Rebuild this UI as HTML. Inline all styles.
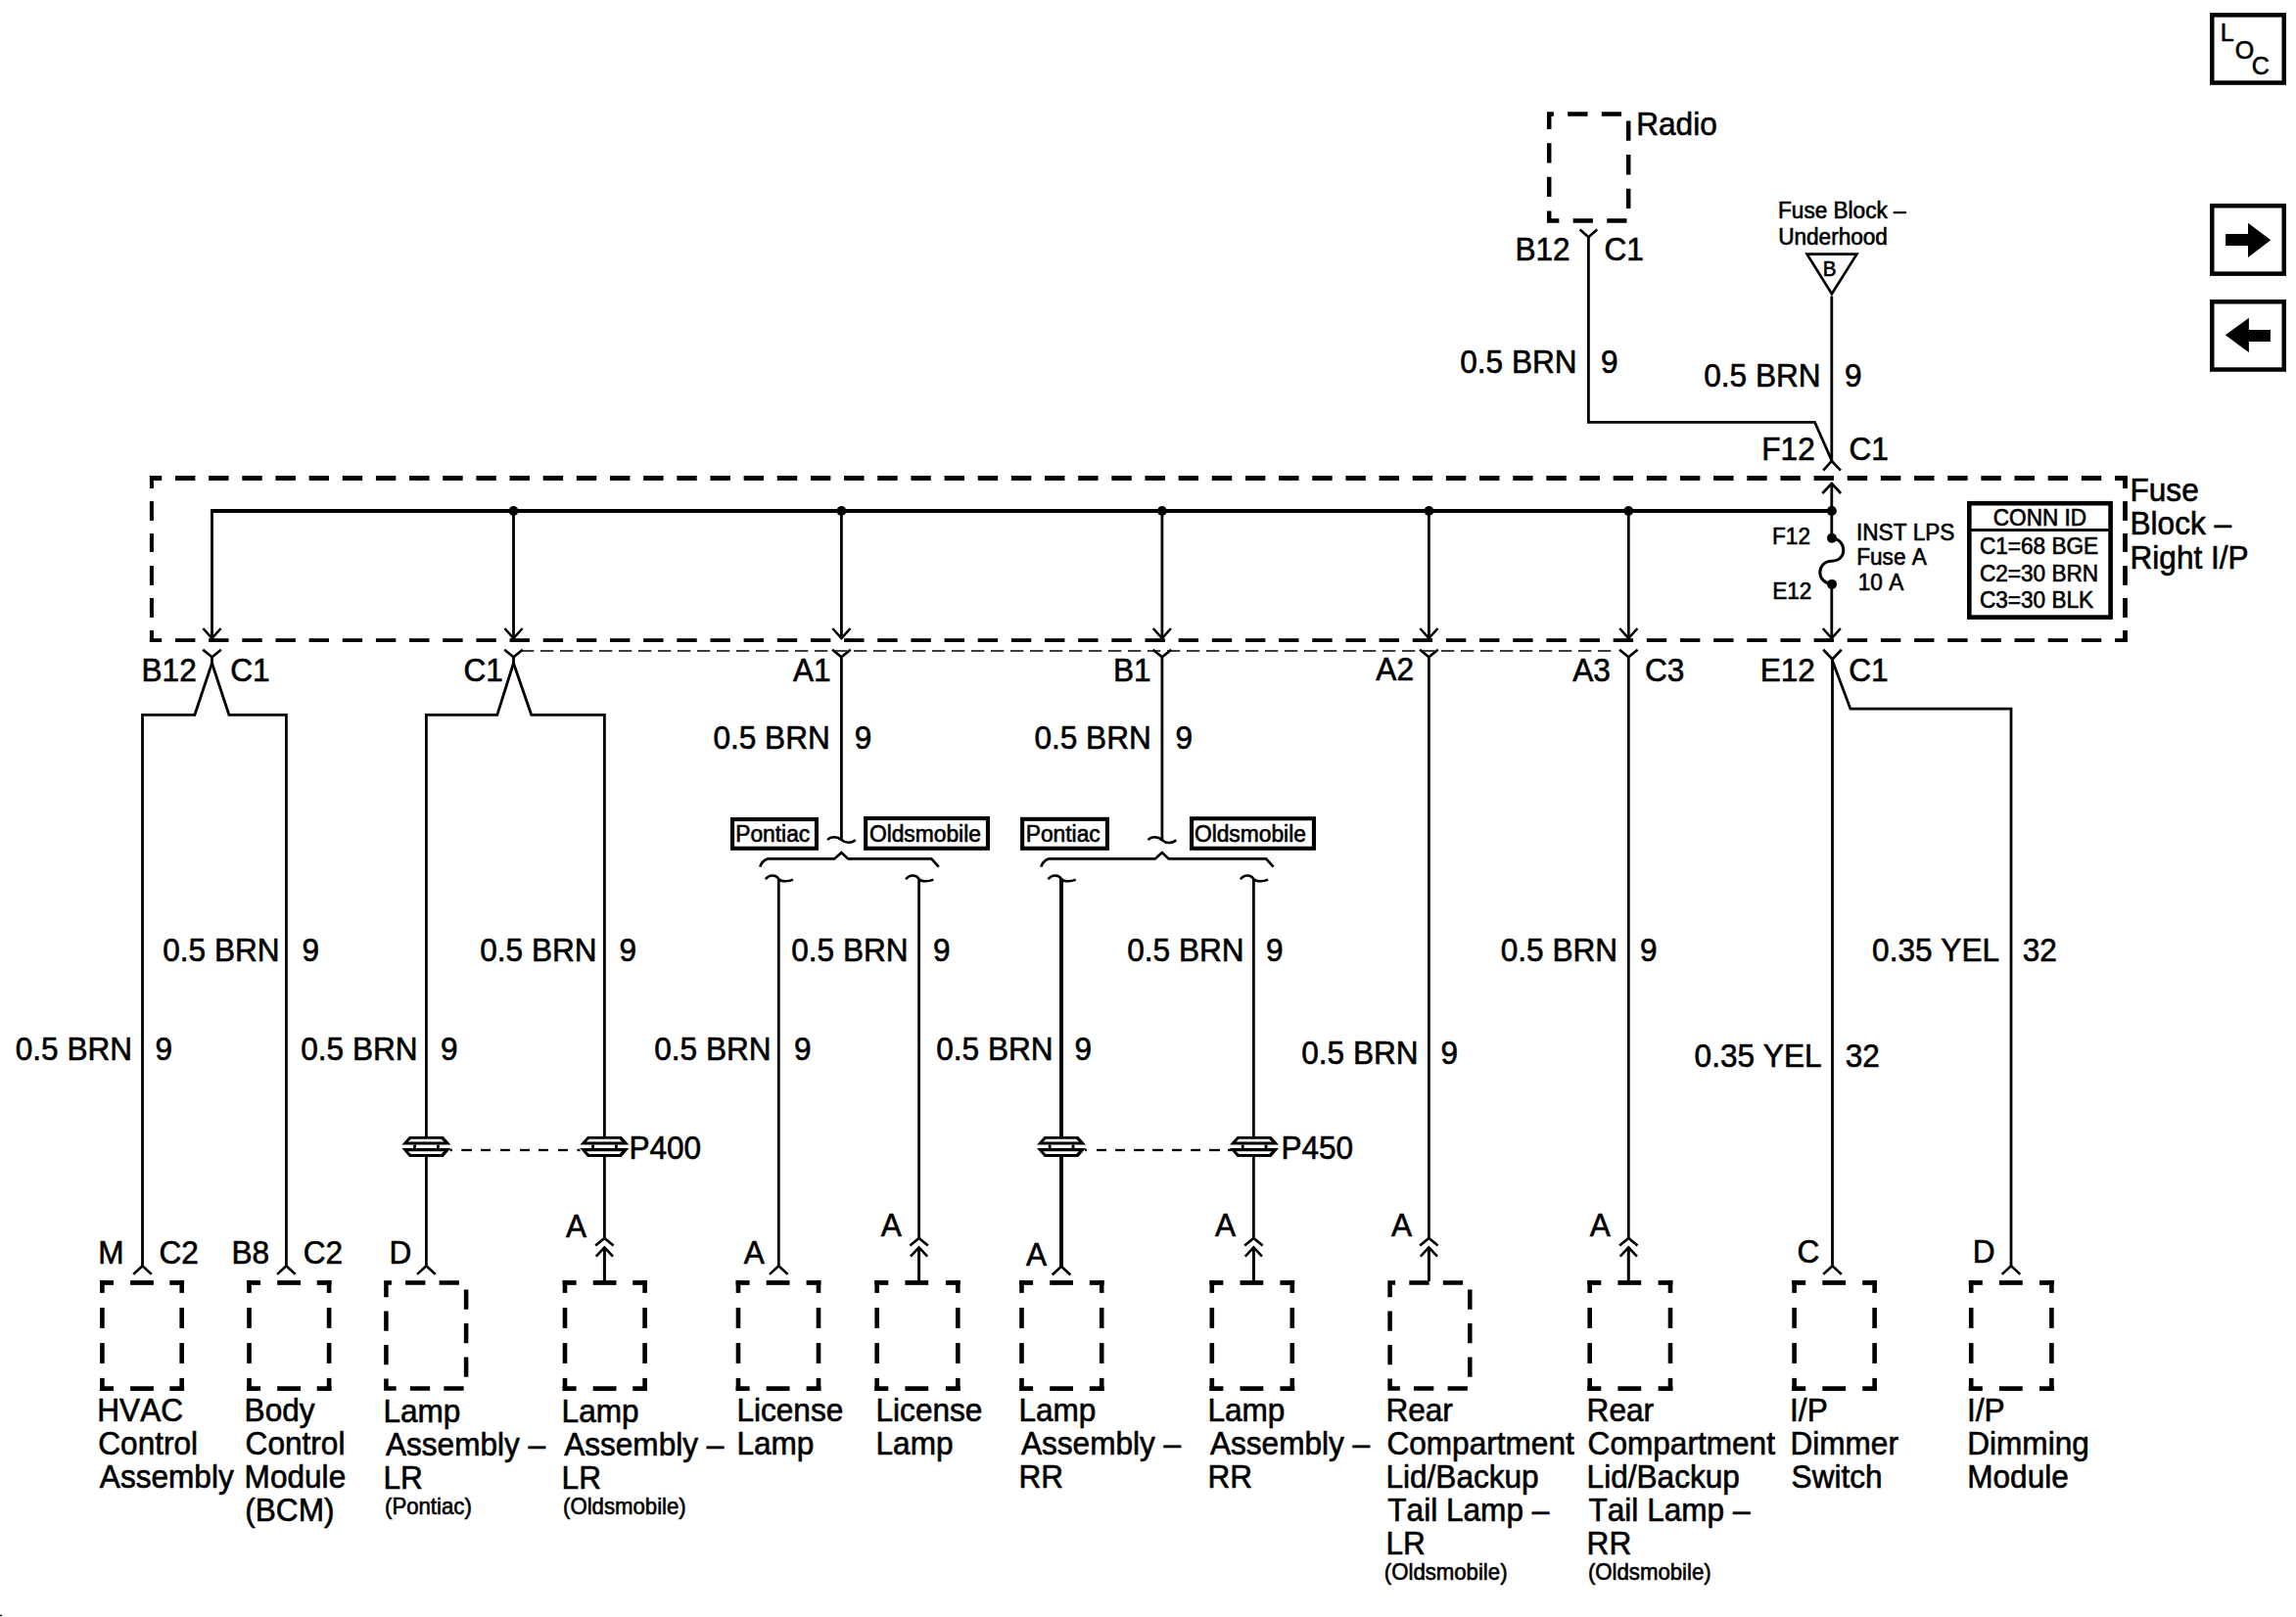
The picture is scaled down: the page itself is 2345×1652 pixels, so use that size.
<!DOCTYPE html>
<html lang="en"><head><meta charset="utf-8"><title>Interior Lamps Dimming Schematic</title>
<style>
html,body{margin:0;padding:0;background:#fff;}
body{width:2345px;height:1652px;overflow:hidden;}
svg{display:block;position:absolute;left:0;top:0;}
svg *{stroke:#000;fill:none;stroke-linecap:butt;}
svg text{font-family:"Liberation Sans",Arial,Helvetica,sans-serif;fill:#000;stroke:#000;stroke-width:0.6px;font-kerning:none;}
svg .f{fill:#000;stroke:none;}
svg .w{fill:#fff;stroke:none;}
</style></head><body>
<svg width="2345" height="1652" viewBox="0 0 2345 1652">
<rect x="0" y="0" width="2345" height="1652" style="fill:#fff;stroke:none"/>
<rect x="2259.25" y="15.35" width="73.50" height="69.20" stroke-width="4.5" fill="#fff"/>
<text transform="translate(2267.85,41.80) scale(1,1.04)" font-size="25" text-anchor="start">L</text>
<text transform="translate(2282.82,59.80) scale(1,1.04)" font-size="25" text-anchor="start">O</text>
<text transform="translate(2299.63,75.70) scale(1,1.04)" font-size="25" text-anchor="start">C</text>
<rect x="2259.25" y="210.25" width="73.50" height="69.40" stroke-width="4.5" fill="#fff"/>
<polygon class="f" points="2273.1,238.9 2296,238.9 2296,227.8 2319.2,245.3 2296,263 2296,250.9 2273.1,250.9"/>
<rect x="2259.25" y="308.25" width="73.50" height="69.30" stroke-width="4.5" fill="#fff"/>
<polygon class="f" points="2318.9,336.9 2296.9,336.9 2296.9,324.8 2272.8,342.3 2296.9,360 2296.9,348.9 2318.9,348.9"/>
<path d="M1601.20,116.40 L1663.20,116.40 L1663.20,225.50 L1582.20,225.50 L1582.20,116.40 L1601.20,116.40" stroke-width="4.5" stroke-dasharray="20.30 14.26" stroke-linejoin="miter"/>
<text transform="translate(1671.21,137.50) scale(1,1.035)" font-size="31.6" text-anchor="start">Radio</text>
<path d="M1613.60,234.50 L1622.40,242.30 L1631.20,234.50" stroke-width="2.6" />
<text transform="translate(1547.41,266.30) scale(1,1.035)" font-size="31.6" text-anchor="start">B12</text>
<text transform="translate(1638.50,266.30) scale(1,1.035)" font-size="31.6" text-anchor="start">C1</text>
<path d="M1622.4,242.3 L1622.4,431.3 L1853.5,431.3 L1870.8,470.5" stroke-width="2.8" />
<text transform="translate(1610.58,381.00) scale(1,1.035)" font-size="31.6" text-anchor="end">0.5 BRN</text>
<text transform="translate(1635.02,381.00) scale(1,1.035)" font-size="31.6" text-anchor="start">9</text>
<text transform="translate(1816.05,222.70) scale(1,1.05)" font-size="22.6" text-anchor="start">Fuse Block –</text>
<text transform="translate(1816.16,249.80) scale(1,1.05)" font-size="22.6" text-anchor="start">Underhood</text>
<path d="M1845.6,259.7 L1896.4,259.7 L1870.9,300.2 Z" stroke-width="2.7" stroke-linejoin="miter"/>
<text transform="translate(1861.71,281.60) scale(1,1.04)" font-size="20.6" text-anchor="start">B</text>
<line x1="1870.80" y1="302.50" x2="1870.80" y2="471.00" stroke-width="2.8" />
<text transform="translate(1859.58,395.00) scale(1,1.035)" font-size="31.6" text-anchor="end">0.5 BRN</text>
<text transform="translate(1884.02,395.00) scale(1,1.035)" font-size="31.6" text-anchor="start">9</text>
<text transform="translate(1799.31,469.75) scale(1,1.035)" font-size="31.6" text-anchor="start">F12</text>
<text transform="translate(1888.40,469.75) scale(1,1.035)" font-size="31.6" text-anchor="start">C1</text>
<path d="M1862.2,480.6 L1870.8,471 L1880,480.6" stroke-width="2.6" />
<rect x="152.90" y="486.00" width="12.30" height="4.90" class="f"/>
<rect x="179.00" y="486.00" width="20.40" height="4.90" class="f"/>
<rect x="213.16" y="486.00" width="20.40" height="4.90" class="f"/>
<rect x="247.31" y="486.00" width="20.40" height="4.90" class="f"/>
<rect x="281.47" y="486.00" width="20.40" height="4.90" class="f"/>
<rect x="315.62" y="486.00" width="20.40" height="4.90" class="f"/>
<rect x="349.77" y="486.00" width="20.40" height="4.90" class="f"/>
<rect x="383.93" y="486.00" width="20.40" height="4.90" class="f"/>
<rect x="418.09" y="486.00" width="20.40" height="4.90" class="f"/>
<rect x="452.24" y="486.00" width="20.40" height="4.90" class="f"/>
<rect x="486.39" y="486.00" width="20.40" height="4.90" class="f"/>
<rect x="520.55" y="486.00" width="20.40" height="4.90" class="f"/>
<rect x="554.71" y="486.00" width="20.40" height="4.90" class="f"/>
<rect x="588.86" y="486.00" width="20.40" height="4.90" class="f"/>
<rect x="623.01" y="486.00" width="20.40" height="4.90" class="f"/>
<rect x="657.17" y="486.00" width="20.40" height="4.90" class="f"/>
<rect x="691.33" y="486.00" width="20.40" height="4.90" class="f"/>
<rect x="725.48" y="486.00" width="20.40" height="4.90" class="f"/>
<rect x="759.63" y="486.00" width="20.40" height="4.90" class="f"/>
<rect x="793.79" y="486.00" width="20.40" height="4.90" class="f"/>
<rect x="827.95" y="486.00" width="20.40" height="4.90" class="f"/>
<rect x="862.10" y="486.00" width="20.40" height="4.90" class="f"/>
<rect x="896.25" y="486.00" width="20.40" height="4.90" class="f"/>
<rect x="930.41" y="486.00" width="20.40" height="4.90" class="f"/>
<rect x="964.57" y="486.00" width="20.40" height="4.90" class="f"/>
<rect x="998.72" y="486.00" width="20.40" height="4.90" class="f"/>
<rect x="1032.88" y="486.00" width="20.40" height="4.90" class="f"/>
<rect x="1067.03" y="486.00" width="20.40" height="4.90" class="f"/>
<rect x="1101.18" y="486.00" width="20.40" height="4.90" class="f"/>
<rect x="1135.34" y="486.00" width="20.40" height="4.90" class="f"/>
<rect x="1169.49" y="486.00" width="20.40" height="4.90" class="f"/>
<rect x="1203.65" y="486.00" width="20.40" height="4.90" class="f"/>
<rect x="1237.81" y="486.00" width="20.40" height="4.90" class="f"/>
<rect x="1271.96" y="486.00" width="20.40" height="4.90" class="f"/>
<rect x="1306.12" y="486.00" width="20.40" height="4.90" class="f"/>
<rect x="1340.27" y="486.00" width="20.40" height="4.90" class="f"/>
<rect x="1374.42" y="486.00" width="20.40" height="4.90" class="f"/>
<rect x="1408.58" y="486.00" width="20.40" height="4.90" class="f"/>
<rect x="1442.74" y="486.00" width="20.40" height="4.90" class="f"/>
<rect x="1476.89" y="486.00" width="20.40" height="4.90" class="f"/>
<rect x="1511.05" y="486.00" width="20.40" height="4.90" class="f"/>
<rect x="1545.20" y="486.00" width="20.40" height="4.90" class="f"/>
<rect x="1579.36" y="486.00" width="20.40" height="4.90" class="f"/>
<rect x="1613.51" y="486.00" width="20.40" height="4.90" class="f"/>
<rect x="1647.66" y="486.00" width="20.40" height="4.90" class="f"/>
<rect x="1681.82" y="486.00" width="20.40" height="4.90" class="f"/>
<rect x="1715.98" y="486.00" width="20.40" height="4.90" class="f"/>
<rect x="1750.13" y="486.00" width="20.40" height="4.90" class="f"/>
<rect x="1784.29" y="486.00" width="20.40" height="4.90" class="f"/>
<rect x="1818.44" y="486.00" width="20.40" height="4.90" class="f"/>
<rect x="1852.60" y="486.00" width="20.40" height="4.90" class="f"/>
<rect x="1886.75" y="486.00" width="20.40" height="4.90" class="f"/>
<rect x="1920.90" y="486.00" width="20.40" height="4.90" class="f"/>
<rect x="1955.06" y="486.00" width="20.40" height="4.90" class="f"/>
<rect x="1989.22" y="486.00" width="20.40" height="4.90" class="f"/>
<rect x="2023.37" y="486.00" width="20.40" height="4.90" class="f"/>
<rect x="2057.53" y="486.00" width="20.40" height="4.90" class="f"/>
<rect x="2091.68" y="486.00" width="20.40" height="4.90" class="f"/>
<rect x="2125.84" y="486.00" width="20.40" height="4.90" class="f"/>
<rect x="2160.00" y="486.00" width="12.90" height="4.90" class="f"/>
<rect x="152.90" y="652.20" width="12.30" height="3.80" class="f"/>
<rect x="179.00" y="652.20" width="20.40" height="3.80" class="f"/>
<rect x="213.16" y="652.20" width="20.40" height="3.80" class="f"/>
<rect x="247.31" y="652.20" width="20.40" height="3.80" class="f"/>
<rect x="281.47" y="652.20" width="20.40" height="3.80" class="f"/>
<rect x="315.62" y="652.20" width="20.40" height="3.80" class="f"/>
<rect x="349.77" y="652.20" width="20.40" height="3.80" class="f"/>
<rect x="383.93" y="652.20" width="20.40" height="3.80" class="f"/>
<rect x="418.09" y="652.20" width="20.40" height="3.80" class="f"/>
<rect x="452.24" y="652.20" width="20.40" height="3.80" class="f"/>
<rect x="486.39" y="652.20" width="20.40" height="3.80" class="f"/>
<rect x="520.55" y="652.20" width="20.40" height="3.80" class="f"/>
<rect x="554.71" y="652.20" width="20.40" height="3.80" class="f"/>
<rect x="588.86" y="652.20" width="20.40" height="3.80" class="f"/>
<rect x="623.01" y="652.20" width="20.40" height="3.80" class="f"/>
<rect x="657.17" y="652.20" width="20.40" height="3.80" class="f"/>
<rect x="691.33" y="652.20" width="20.40" height="3.80" class="f"/>
<rect x="725.48" y="652.20" width="20.40" height="3.80" class="f"/>
<rect x="759.63" y="652.20" width="20.40" height="3.80" class="f"/>
<rect x="793.79" y="652.20" width="20.40" height="3.80" class="f"/>
<rect x="827.95" y="652.20" width="20.40" height="3.80" class="f"/>
<rect x="862.10" y="652.20" width="20.40" height="3.80" class="f"/>
<rect x="896.25" y="652.20" width="20.40" height="3.80" class="f"/>
<rect x="930.41" y="652.20" width="20.40" height="3.80" class="f"/>
<rect x="964.57" y="652.20" width="20.40" height="3.80" class="f"/>
<rect x="998.72" y="652.20" width="20.40" height="3.80" class="f"/>
<rect x="1032.88" y="652.20" width="20.40" height="3.80" class="f"/>
<rect x="1067.03" y="652.20" width="20.40" height="3.80" class="f"/>
<rect x="1101.18" y="652.20" width="20.40" height="3.80" class="f"/>
<rect x="1135.34" y="652.20" width="20.40" height="3.80" class="f"/>
<rect x="1169.49" y="652.20" width="20.40" height="3.80" class="f"/>
<rect x="1203.65" y="652.20" width="20.40" height="3.80" class="f"/>
<rect x="1237.81" y="652.20" width="20.40" height="3.80" class="f"/>
<rect x="1271.96" y="652.20" width="20.40" height="3.80" class="f"/>
<rect x="1306.12" y="652.20" width="20.40" height="3.80" class="f"/>
<rect x="1340.27" y="652.20" width="20.40" height="3.80" class="f"/>
<rect x="1374.42" y="652.20" width="20.40" height="3.80" class="f"/>
<rect x="1408.58" y="652.20" width="20.40" height="3.80" class="f"/>
<rect x="1442.74" y="652.20" width="20.40" height="3.80" class="f"/>
<rect x="1476.89" y="652.20" width="20.40" height="3.80" class="f"/>
<rect x="1511.05" y="652.20" width="20.40" height="3.80" class="f"/>
<rect x="1545.20" y="652.20" width="20.40" height="3.80" class="f"/>
<rect x="1579.36" y="652.20" width="20.40" height="3.80" class="f"/>
<rect x="1613.51" y="652.20" width="20.40" height="3.80" class="f"/>
<rect x="1647.66" y="652.20" width="20.40" height="3.80" class="f"/>
<rect x="1681.82" y="652.20" width="20.40" height="3.80" class="f"/>
<rect x="1715.98" y="652.20" width="20.40" height="3.80" class="f"/>
<rect x="1750.13" y="652.20" width="20.40" height="3.80" class="f"/>
<rect x="1784.29" y="652.20" width="20.40" height="3.80" class="f"/>
<rect x="1818.44" y="652.20" width="20.40" height="3.80" class="f"/>
<rect x="1852.60" y="652.20" width="20.40" height="3.80" class="f"/>
<rect x="1886.75" y="652.20" width="20.40" height="3.80" class="f"/>
<rect x="1920.90" y="652.20" width="20.40" height="3.80" class="f"/>
<rect x="1955.06" y="652.20" width="20.40" height="3.80" class="f"/>
<rect x="1989.22" y="652.20" width="20.40" height="3.80" class="f"/>
<rect x="2023.37" y="652.20" width="20.40" height="3.80" class="f"/>
<rect x="2057.53" y="652.20" width="20.40" height="3.80" class="f"/>
<rect x="2091.68" y="652.20" width="20.40" height="3.80" class="f"/>
<rect x="2125.84" y="652.20" width="20.40" height="3.80" class="f"/>
<rect x="2160.00" y="652.20" width="12.90" height="3.80" class="f"/>
<rect x="152.90" y="486.00" width="4.00" height="13.00" class="f"/>
<rect x="152.90" y="512.10" width="4.00" height="19.80" class="f"/>
<rect x="152.90" y="545.00" width="4.00" height="18.90" class="f"/>
<rect x="152.90" y="578.10" width="4.00" height="19.80" class="f"/>
<rect x="152.90" y="611.00" width="4.00" height="19.90" class="f"/>
<rect x="152.90" y="644.00" width="4.00" height="11.90" class="f"/>
<rect x="2168.12" y="486.00" width="4.75" height="13.00" class="f"/>
<rect x="2168.12" y="512.10" width="4.75" height="19.80" class="f"/>
<rect x="2168.12" y="545.00" width="4.75" height="18.90" class="f"/>
<rect x="2168.12" y="578.10" width="4.75" height="19.80" class="f"/>
<rect x="2168.12" y="611.00" width="4.75" height="19.90" class="f"/>
<rect x="2168.12" y="644.00" width="4.75" height="11.90" class="f"/>
<text transform="translate(2175.51,511.50) scale(1,1.035)" font-size="31.6" text-anchor="start">Fuse</text>
<text transform="translate(2175.51,545.60) scale(1,1.035)" font-size="31.6" text-anchor="start">Block –</text>
<text transform="translate(2175.51,580.60) scale(1,1.035)" font-size="31.6" text-anchor="start">Right I/P</text>
<line x1="215.10" y1="522.00" x2="1870.80" y2="522.00" stroke-width="4.0" />
<line x1="216.50" y1="522.00" x2="216.50" y2="651.50" stroke-width="2.8" />
<path d="M207.40,642.00 L216.50,652.00 L225.60,642.00" stroke-width="2.6" />
<line x1="524.50" y1="522.00" x2="524.50" y2="651.50" stroke-width="2.8" />
<path d="M515.40,642.00 L524.50,652.00 L533.60,642.00" stroke-width="2.6" />
<line x1="859.40" y1="522.00" x2="859.40" y2="651.50" stroke-width="2.8" />
<path d="M850.30,642.00 L859.40,652.00 L868.50,642.00" stroke-width="2.6" />
<line x1="1186.90" y1="522.00" x2="1186.90" y2="651.50" stroke-width="2.8" />
<path d="M1177.80,642.00 L1186.90,652.00 L1196.00,642.00" stroke-width="2.6" />
<line x1="1459.40" y1="522.00" x2="1459.40" y2="651.50" stroke-width="2.8" />
<path d="M1450.30,642.00 L1459.40,652.00 L1468.50,642.00" stroke-width="2.6" />
<line x1="1663.30" y1="522.00" x2="1663.30" y2="651.50" stroke-width="2.8" />
<path d="M1654.20,642.00 L1663.30,652.00 L1672.40,642.00" stroke-width="2.6" />
<circle cx="524.5" cy="522" r="4.9" class="f"/>
<circle cx="859.4" cy="522" r="4.9" class="f"/>
<circle cx="1186.9" cy="522" r="4.9" class="f"/>
<circle cx="1459.4" cy="522" r="4.9" class="f"/>
<circle cx="1663.3" cy="522" r="4.9" class="f"/>
<circle cx="1870.8" cy="522" r="5.1" class="f"/>
<line x1="1870.80" y1="495.00" x2="1870.80" y2="550.00" stroke-width="2.8" />
<path d="M1861.30,504 L1870.80,494 L1880.10,504" stroke-width="2.6" />
<circle cx="1871.0" cy="549.8" r="5" class="f"/>
<circle cx="1871.0" cy="596.9" r="5" class="f"/>
<path d="M1871.00,550 C1878.80,550.5 1882.80,556 1882.80,562 C1882.80,568 1878.80,573 1870.80,573.2 C1862.80,573.4 1858.80,579 1858.80,585 C1858.80,591 1863.80,596 1871.00,597" stroke-width="3.0" />
<line x1="1870.80" y1="597.00" x2="1870.80" y2="651.50" stroke-width="2.8" />
<path d="M1861.70,642.00 L1870.80,652.00 L1879.90,642.00" stroke-width="2.6" />
<text transform="translate(1810.05,555.60) scale(1,1.05)" font-size="22.6" text-anchor="start">F12</text>
<text transform="translate(1810.15,611.50) scale(1,1.05)" font-size="22.6" text-anchor="start">E12</text>
<text transform="translate(1896.01,551.60) scale(1,1.05)" font-size="22.6" text-anchor="start">INST LPS</text>
<text transform="translate(1896.25,576.90) scale(1,1.05)" font-size="22.6" text-anchor="start">Fuse A</text>
<text transform="translate(1897.78,602.75) scale(1,1.05)" font-size="22.6" text-anchor="start">10 A</text>
<rect x="2011.3" y="514.2" width="144.3" height="116.4" stroke-width="4.6" fill="#fff"/>
<line x1="2011.00" y1="541.60" x2="2156.00" y2="541.60" stroke-width="3.0" />
<text transform="translate(2035.75,536.60) scale(1,1.05)" font-size="22.6" text-anchor="start">CONN ID</text>
<text transform="translate(2021.95,565.90) scale(1,1.05)" font-size="22.6" text-anchor="start">C1=68 BGE</text>
<text transform="translate(2021.95,593.75) scale(1,1.05)" font-size="22.6" text-anchor="start">C2=30 BRN</text>
<text transform="translate(2021.95,620.90) scale(1,1.05)" font-size="22.6" text-anchor="start">C3=30 BLK</text>
<line x1="532" y1="665" x2="1652" y2="665" stroke-width="1.6" stroke-dasharray="13.3 6.7" stroke-dashoffset="0"/>
<path d="M207.20,663.75 L216.50,671.25 L225.80,663.75" stroke-width="2.6" />
<path d="M515.20,663.75 L524.50,671.25 L533.80,663.75" stroke-width="2.6" />
<path d="M850.10,663.75 L859.40,671.25 L868.70,663.75" stroke-width="2.6" />
<path d="M1177.60,663.75 L1186.90,671.25 L1196.20,663.75" stroke-width="2.6" />
<path d="M1450.10,663.75 L1459.40,671.25 L1468.70,663.75" stroke-width="2.6" />
<path d="M1654.00,663.75 L1663.30,671.25 L1672.60,663.75" stroke-width="2.6" />
<path d="M1862.20,663.75 L1871.50,673.50 L1880.80,663.75" stroke-width="2.6" />
<path d="M216.50,671.25 L216.50,677.5 L198.90,730.3 L145.50,730.3 L145.50,1293.00" stroke-width="2.8" stroke-linejoin="miter"/>
<path d="M216.50,677.5 L233.90,730.3 L292.40,730.3 L292.40,1293.00" stroke-width="2.8" stroke-linejoin="miter"/>
<path d="M524.50,671.25 L524.50,677.5 L507.80,730.3 L435.40,730.3 L435.40,1161.50" stroke-width="2.8" stroke-linejoin="miter"/>
<path d="M524.50,677.5 L542.70,730.3 L617.40,730.3 L617.40,1161.50" stroke-width="2.8" stroke-linejoin="miter"/>
<text transform="translate(144.51,695.60) scale(1,1.035)" font-size="31.6" text-anchor="start">B12</text>
<text transform="translate(235.30,695.60) scale(1,1.035)" font-size="31.6" text-anchor="start">C1</text>
<text transform="translate(473.40,695.80) scale(1,1.035)" font-size="31.6" text-anchor="start">C1</text>
<text transform="translate(809.94,695.50) scale(1,1.035)" font-size="31.6" text-anchor="start">A1</text>
<text transform="translate(1136.91,695.60) scale(1,1.035)" font-size="31.6" text-anchor="start">B1</text>
<text transform="translate(1405.34,695.40) scale(1,1.035)" font-size="31.6" text-anchor="start">A2</text>
<text transform="translate(1606.14,695.50) scale(1,1.035)" font-size="31.6" text-anchor="start">A3</text>
<text transform="translate(1679.90,695.50) scale(1,1.035)" font-size="31.6" text-anchor="start">C3</text>
<text transform="translate(1797.71,695.60) scale(1,1.035)" font-size="31.6" text-anchor="start">E12</text>
<text transform="translate(1888.30,695.60) scale(1,1.035)" font-size="31.6" text-anchor="start">C1</text>
<path d="M136.20,1301.90 L145.50,1293.20 L154.80,1301.90" stroke-width="2.6" />
<path d="M283.10,1301.90 L292.40,1293.20 L301.70,1301.90" stroke-width="2.6" />
<line x1="435.40" y1="1182.00" x2="435.40" y2="1293.50" stroke-width="2.8" />
<path d="M426.10,1301.90 L435.40,1293.20 L444.70,1301.90" stroke-width="2.6" />
<line x1="617.40" y1="1182.00" x2="617.40" y2="1265.50" stroke-width="2.8" />
<path d="M608.20,1272.60 L617.40,1265.00 L626.60,1272.60" stroke-width="2.6" />
<path d="M608.80,1283.60 L617.40,1274.40 L626.00,1283.60" stroke-width="2.6" />
<line x1="617.40" y1="1274.40" x2="617.40" y2="1309.00" stroke-width="3.0" />
<rect x="459.50" y="1173.85" width="2.50" height="2.30" class="f"/>
<rect x="471.25" y="1173.85" width="10.65" height="2.30" class="f"/>
<rect x="491.00" y="1173.85" width="10.00" height="2.30" class="f"/>
<rect x="511.00" y="1173.85" width="9.90" height="2.30" class="f"/>
<rect x="531.00" y="1173.85" width="10.00" height="2.30" class="f"/>
<rect x="550.00" y="1173.85" width="10.00" height="2.30" class="f"/>
<rect x="570.00" y="1173.85" width="10.00" height="2.30" class="f"/>
<rect x="589.50" y="1173.85" width="3.00" height="2.30" class="f"/>
<polygon class="f" points="418.10,1161.00 452.70,1161.00 460.40,1169.60 410.40,1169.60"/>
<polygon class="w" points="419.80,1163.75 450.60,1163.75 453.30,1166.60 416.80,1166.60"/>
<polygon class="f" points="410.40,1172.90 460.40,1172.90 452.70,1181.90 418.10,1181.90"/>
<polygon class="w" points="416.80,1176.20 453.30,1176.20 450.60,1179.00 419.80,1179.00"/>
<rect x="422.20" y="1169.40" width="2.80" height="3.70" class="f"/>
<rect x="446.00" y="1169.40" width="2.80" height="3.70" class="f"/>
<polygon class="f" points="600.10,1161.00 634.70,1161.00 642.40,1169.60 592.40,1169.60"/>
<polygon class="w" points="601.80,1163.75 632.60,1163.75 635.30,1166.60 598.80,1166.60"/>
<polygon class="f" points="592.40,1172.90 642.40,1172.90 634.70,1181.90 600.10,1181.90"/>
<polygon class="w" points="598.80,1176.20 635.30,1176.20 632.60,1179.00 601.80,1179.00"/>
<rect x="604.20" y="1169.40" width="2.80" height="3.70" class="f"/>
<rect x="628.00" y="1169.40" width="2.80" height="3.70" class="f"/>
<text transform="translate(642.41,1183.75) scale(1,1.035)" font-size="31.6" text-anchor="start">P400</text>
<line x1="859.40" y1="671.25" x2="859.40" y2="858.00" stroke-width="2.8" />
<path d="M845.10,858.00 C848.67,854.22 855.11,854.22 859.40,858.00 C863.69,861.78 870.12,861.78 873.70,858.00" stroke-width="2.5" />
<text transform="translate(847.78,764.50) scale(1,1.035)" font-size="31.6" text-anchor="end">0.5 BRN</text>
<text transform="translate(872.72,764.50) scale(1,1.035)" font-size="31.6" text-anchor="start">9</text>
<rect x="748.05" y="837.05" width="85.90" height="29.70" stroke-width="4.1" fill="#fff"/>
<text transform="translate(751.23,859.75) scale(1,1.05)" font-size="22.8" text-anchor="start">Pontiac</text>
<rect x="884.15" y="836.05" width="124.80" height="30.70" stroke-width="4.1" fill="#fff"/>
<text transform="translate(887.92,860.00) scale(1,1.05)" font-size="22.8" text-anchor="start">Oldsmobile</text>
<path d="M776.30,885.60 Q777.80,879.90 783.80,877.40 L852.20,877.40 L859.40,871.00 L866.20,877.40 L951.30,877.40 L958.80,885.60" stroke-width="2.7" stroke-linejoin="miter"/>
<path d="M781.80,898.30 C785.30,893.70 792.30,893.10 795.30,898.10 C797.80,900.90 805.30,900.90 810.00,898.60" stroke-width="2.5" />
<path d="M925.10,898.30 C928.60,893.70 935.60,893.10 938.60,898.10 C941.10,900.90 948.60,900.90 953.30,898.60" stroke-width="2.5" />
<line x1="795.30" y1="897.50" x2="795.30" y2="1293.50" stroke-width="2.8" />
<path d="M786.00,1301.90 L795.30,1293.20 L804.60,1301.90" stroke-width="2.6" />
<line x1="938.60" y1="897.50" x2="938.60" y2="1265.50" stroke-width="2.8" />
<path d="M929.40,1272.60 L938.60,1265.00 L947.80,1272.60" stroke-width="2.6" />
<path d="M930.00,1283.60 L938.60,1274.40 L947.20,1283.60" stroke-width="2.6" />
<line x1="938.60" y1="1274.40" x2="938.60" y2="1309.00" stroke-width="3.0" />
<line x1="1186.90" y1="671.25" x2="1186.90" y2="858.20" stroke-width="2.8" />
<path d="M1172.60,858.20 C1176.18,854.42 1182.61,854.42 1186.90,858.20 C1191.19,861.98 1197.62,861.98 1201.20,858.20" stroke-width="2.5" />
<text transform="translate(1175.78,764.50) scale(1,1.035)" font-size="31.6" text-anchor="end">0.5 BRN</text>
<text transform="translate(1200.42,764.50) scale(1,1.035)" font-size="31.6" text-anchor="start">9</text>
<rect x="1044.15" y="836.85" width="86.80" height="29.90" stroke-width="4.1" fill="#fff"/>
<text transform="translate(1047.73,859.50) scale(1,1.05)" font-size="22.8" text-anchor="start">Pontiac</text>
<rect x="1217.05" y="836.25" width="124.90" height="30.50" stroke-width="4.1" fill="#fff"/>
<text transform="translate(1219.92,860.00) scale(1,1.05)" font-size="22.8" text-anchor="start">Oldsmobile</text>
<path d="M1063.30,885.60 Q1064.80,879.90 1070.80,877.40 L1179.70,877.40 L1186.90,871.00 L1193.70,877.40 L1293.10,877.40 L1300.60,885.60" stroke-width="2.7" stroke-linejoin="miter"/>
<path d="M1070.50,898.30 C1074.00,893.70 1081.00,893.10 1084.00,898.10 C1086.50,900.90 1094.00,900.90 1098.70,898.60" stroke-width="2.5" />
<path d="M1266.90,898.30 C1270.40,893.70 1277.40,893.10 1280.40,898.10 C1282.90,900.90 1290.40,900.90 1295.10,898.60" stroke-width="2.5" />
<line x1="1084.00" y1="897.50" x2="1084.00" y2="1161.50" stroke-width="3.9" />
<line x1="1084.00" y1="1182.00" x2="1084.00" y2="1295.00" stroke-width="3.9" />
<path d="M1074.70,1302.50 L1084.00,1293.80 L1093.30,1302.50" stroke-width="2.6" />
<line x1="1280.40" y1="897.50" x2="1280.40" y2="1161.50" stroke-width="2.8" />
<line x1="1280.40" y1="1182.00" x2="1280.40" y2="1265.50" stroke-width="2.8" />
<path d="M1271.20,1272.60 L1280.40,1265.00 L1289.60,1272.60" stroke-width="2.6" />
<path d="M1271.80,1283.60 L1280.40,1274.40 L1289.00,1283.60" stroke-width="2.6" />
<line x1="1280.40" y1="1274.40" x2="1280.40" y2="1309.00" stroke-width="3.0" />
<rect x="1108.00" y="1173.85" width="2.00" height="2.30" class="f"/>
<rect x="1120.00" y="1173.85" width="10.00" height="2.30" class="f"/>
<rect x="1139.10" y="1173.85" width="9.90" height="2.30" class="f"/>
<rect x="1158.10" y="1173.85" width="10.65" height="2.30" class="f"/>
<rect x="1177.10" y="1173.85" width="10.80" height="2.30" class="f"/>
<rect x="1197.10" y="1173.85" width="9.80" height="2.30" class="f"/>
<rect x="1216.25" y="1173.85" width="9.75" height="2.30" class="f"/>
<rect x="1235.00" y="1173.85" width="11.00" height="2.30" class="f"/>
<rect x="1254.00" y="1173.85" width="4.75" height="2.30" class="f"/>
<polygon class="f" points="1066.70,1161.00 1101.30,1161.00 1109.00,1169.60 1059.00,1169.60"/>
<polygon class="w" points="1068.40,1163.75 1099.20,1163.75 1101.90,1166.60 1065.40,1166.60"/>
<polygon class="f" points="1059.00,1172.90 1109.00,1172.90 1101.30,1181.90 1066.70,1181.90"/>
<polygon class="w" points="1065.40,1176.20 1101.90,1176.20 1099.20,1179.00 1068.40,1179.00"/>
<rect x="1070.80" y="1169.40" width="2.80" height="3.70" class="f"/>
<rect x="1094.60" y="1169.40" width="2.80" height="3.70" class="f"/>
<polygon class="f" points="1263.70,1161.00 1298.30,1161.00 1306.00,1169.60 1256.00,1169.60"/>
<polygon class="w" points="1265.40,1163.75 1296.20,1163.75 1298.90,1166.60 1262.40,1166.60"/>
<polygon class="f" points="1256.00,1172.90 1306.00,1172.90 1298.30,1181.90 1263.70,1181.90"/>
<polygon class="w" points="1262.40,1176.20 1298.90,1176.20 1296.20,1179.00 1265.40,1179.00"/>
<rect x="1267.80" y="1169.40" width="2.80" height="3.70" class="f"/>
<rect x="1291.60" y="1169.40" width="2.80" height="3.70" class="f"/>
<text transform="translate(1308.41,1184.00) scale(1,1.035)" font-size="31.6" text-anchor="start">P450</text>
<line x1="1459.40" y1="671.25" x2="1459.40" y2="1265.50" stroke-width="2.8" />
<path d="M1450.20,1272.60 L1459.40,1265.00 L1468.60,1272.60" stroke-width="2.6" />
<path d="M1450.80,1283.60 L1459.40,1274.40 L1468.00,1283.60" stroke-width="2.6" />
<line x1="1459.40" y1="1274.40" x2="1459.40" y2="1309.00" stroke-width="3.0" />
<line x1="1663.30" y1="671.25" x2="1663.30" y2="1265.50" stroke-width="2.8" />
<path d="M1654.10,1272.60 L1663.30,1265.00 L1672.50,1272.60" stroke-width="2.6" />
<path d="M1654.70,1283.60 L1663.30,1274.40 L1671.90,1283.60" stroke-width="2.6" />
<line x1="1663.30" y1="1274.40" x2="1663.30" y2="1309.00" stroke-width="3.0" />
<line x1="1871.50" y1="673.50" x2="1871.50" y2="1293.50" stroke-width="2.8" />
<path d="M1862.20,1301.90 L1871.50,1293.20 L1880.80,1301.90" stroke-width="2.6" />
<path d="M1871.5,675 L1889.9,724.2 L2054,724.2 L2054,1293.5" stroke-width="2.8" stroke-linejoin="miter"/>
<path d="M2044.70,1301.90 L2054.00,1293.20 L2063.30,1301.90" stroke-width="2.6" />
<text transform="translate(285.58,981.80) scale(1,1.035)" font-size="31.6" text-anchor="end">0.5 BRN</text>
<text transform="translate(308.52,981.80) scale(1,1.035)" font-size="31.6" text-anchor="start">9</text>
<text transform="translate(609.58,981.80) scale(1,1.035)" font-size="31.6" text-anchor="end">0.5 BRN</text>
<text transform="translate(632.52,981.80) scale(1,1.035)" font-size="31.6" text-anchor="start">9</text>
<text transform="translate(927.58,981.60) scale(1,1.035)" font-size="31.6" text-anchor="end">0.5 BRN</text>
<text transform="translate(952.92,981.60) scale(1,1.035)" font-size="31.6" text-anchor="start">9</text>
<text transform="translate(1270.58,981.80) scale(1,1.035)" font-size="31.6" text-anchor="end">0.5 BRN</text>
<text transform="translate(1293.02,981.80) scale(1,1.035)" font-size="31.6" text-anchor="start">9</text>
<text transform="translate(1652.08,981.80) scale(1,1.035)" font-size="31.6" text-anchor="end">0.5 BRN</text>
<text transform="translate(1675.02,981.80) scale(1,1.035)" font-size="31.6" text-anchor="start">9</text>
<text transform="translate(2042.05,981.80) scale(1,1.035)" font-size="31.6" text-anchor="end">0.35 YEL</text>
<text transform="translate(2065.80,981.80) scale(1,1.035)" font-size="31.6" text-anchor="start">32</text>
<text transform="translate(135.08,1082.50) scale(1,1.035)" font-size="31.6" text-anchor="end">0.5 BRN</text>
<text transform="translate(158.52,1082.50) scale(1,1.035)" font-size="31.6" text-anchor="start">9</text>
<text transform="translate(426.58,1082.50) scale(1,1.035)" font-size="31.6" text-anchor="end">0.5 BRN</text>
<text transform="translate(450.02,1082.50) scale(1,1.035)" font-size="31.6" text-anchor="start">9</text>
<text transform="translate(787.58,1082.50) scale(1,1.035)" font-size="31.6" text-anchor="end">0.5 BRN</text>
<text transform="translate(811.02,1082.50) scale(1,1.035)" font-size="31.6" text-anchor="start">9</text>
<text transform="translate(1075.58,1082.50) scale(1,1.035)" font-size="31.6" text-anchor="end">0.5 BRN</text>
<text transform="translate(1097.52,1082.50) scale(1,1.035)" font-size="31.6" text-anchor="start">9</text>
<text transform="translate(1448.58,1087.00) scale(1,1.035)" font-size="31.6" text-anchor="end">0.5 BRN</text>
<text transform="translate(1471.52,1087.00) scale(1,1.035)" font-size="31.6" text-anchor="start">9</text>
<text transform="translate(1860.55,1089.50) scale(1,1.035)" font-size="31.6" text-anchor="end">0.35 YEL</text>
<text transform="translate(1884.80,1089.50) scale(1,1.035)" font-size="31.6" text-anchor="start">32</text>
<rect x="102.00" y="1308.15" width="14.00" height="4.70" class="f"/>
<rect x="133.10" y="1308.15" width="23.80" height="4.70" class="f"/>
<rect x="173.30" y="1308.15" width="14.80" height="4.70" class="f"/>
<rect x="102.00" y="1416.25" width="14.00" height="4.70" class="f"/>
<rect x="133.10" y="1416.25" width="23.80" height="4.70" class="f"/>
<rect x="173.30" y="1416.25" width="14.80" height="4.70" class="f"/>
<rect x="102.10" y="1308.10" width="4.60" height="12.80" class="f"/>
<rect x="102.10" y="1336.00" width="4.60" height="20.90" class="f"/>
<rect x="102.10" y="1372.10" width="4.60" height="20.80" class="f"/>
<rect x="102.10" y="1407.90" width="4.60" height="13.00" class="f"/>
<rect x="183.40" y="1308.10" width="4.60" height="12.80" class="f"/>
<rect x="183.40" y="1336.00" width="4.60" height="20.90" class="f"/>
<rect x="183.40" y="1372.10" width="4.60" height="20.80" class="f"/>
<rect x="183.40" y="1407.90" width="4.60" height="13.00" class="f"/>
<rect x="252.10" y="1308.15" width="14.00" height="4.70" class="f"/>
<rect x="283.20" y="1308.15" width="23.80" height="4.70" class="f"/>
<rect x="323.70" y="1308.15" width="14.80" height="4.70" class="f"/>
<rect x="252.10" y="1416.25" width="14.00" height="4.70" class="f"/>
<rect x="283.20" y="1416.25" width="23.80" height="4.70" class="f"/>
<rect x="323.70" y="1416.25" width="14.80" height="4.70" class="f"/>
<rect x="252.20" y="1308.10" width="4.60" height="12.80" class="f"/>
<rect x="252.20" y="1336.00" width="4.60" height="20.90" class="f"/>
<rect x="252.20" y="1372.10" width="4.60" height="20.80" class="f"/>
<rect x="252.20" y="1407.90" width="4.60" height="13.00" class="f"/>
<rect x="333.80" y="1308.10" width="4.60" height="12.80" class="f"/>
<rect x="333.80" y="1336.00" width="4.60" height="20.90" class="f"/>
<rect x="333.80" y="1372.10" width="4.60" height="20.80" class="f"/>
<rect x="333.80" y="1407.90" width="4.60" height="13.00" class="f"/>
<path d="M414.10,1310.50 L476.10,1310.50 L476.10,1418.60 L394.40,1418.60 L394.40,1310.50 L414.10,1310.50" stroke-width="4.5" stroke-dasharray="20.30 14.21" stroke-linejoin="miter"/>
<rect x="574.60" y="1308.15" width="14.00" height="4.70" class="f"/>
<rect x="605.70" y="1308.15" width="23.80" height="4.70" class="f"/>
<rect x="646.20" y="1308.15" width="14.80" height="4.70" class="f"/>
<rect x="574.60" y="1416.25" width="14.00" height="4.70" class="f"/>
<rect x="605.70" y="1416.25" width="23.80" height="4.70" class="f"/>
<rect x="646.20" y="1416.25" width="14.80" height="4.70" class="f"/>
<rect x="574.70" y="1308.10" width="4.60" height="12.80" class="f"/>
<rect x="574.70" y="1336.00" width="4.60" height="20.90" class="f"/>
<rect x="574.70" y="1372.10" width="4.60" height="20.80" class="f"/>
<rect x="574.70" y="1407.90" width="4.60" height="13.00" class="f"/>
<rect x="656.30" y="1308.10" width="4.60" height="12.80" class="f"/>
<rect x="656.30" y="1336.00" width="4.60" height="20.90" class="f"/>
<rect x="656.30" y="1372.10" width="4.60" height="20.80" class="f"/>
<rect x="656.30" y="1407.90" width="4.60" height="13.00" class="f"/>
<rect x="751.60" y="1308.15" width="14.00" height="4.70" class="f"/>
<rect x="782.70" y="1308.15" width="23.80" height="4.70" class="f"/>
<rect x="823.60" y="1308.15" width="14.80" height="4.70" class="f"/>
<rect x="751.60" y="1416.25" width="14.00" height="4.70" class="f"/>
<rect x="782.70" y="1416.25" width="23.80" height="4.70" class="f"/>
<rect x="823.60" y="1416.25" width="14.80" height="4.70" class="f"/>
<rect x="751.70" y="1308.10" width="4.60" height="12.80" class="f"/>
<rect x="751.70" y="1336.00" width="4.60" height="20.90" class="f"/>
<rect x="751.70" y="1372.10" width="4.60" height="20.80" class="f"/>
<rect x="751.70" y="1407.90" width="4.60" height="13.00" class="f"/>
<rect x="833.70" y="1308.10" width="4.60" height="12.80" class="f"/>
<rect x="833.70" y="1336.00" width="4.60" height="20.90" class="f"/>
<rect x="833.70" y="1372.10" width="4.60" height="20.80" class="f"/>
<rect x="833.70" y="1407.90" width="4.60" height="13.00" class="f"/>
<rect x="893.30" y="1308.15" width="14.00" height="4.70" class="f"/>
<rect x="924.40" y="1308.15" width="23.80" height="4.70" class="f"/>
<rect x="965.90" y="1308.15" width="14.80" height="4.70" class="f"/>
<rect x="893.30" y="1416.25" width="14.00" height="4.70" class="f"/>
<rect x="924.40" y="1416.25" width="23.80" height="4.70" class="f"/>
<rect x="965.90" y="1416.25" width="14.80" height="4.70" class="f"/>
<rect x="893.40" y="1308.10" width="4.60" height="12.80" class="f"/>
<rect x="893.40" y="1336.00" width="4.60" height="20.90" class="f"/>
<rect x="893.40" y="1372.10" width="4.60" height="20.80" class="f"/>
<rect x="893.40" y="1407.90" width="4.60" height="13.00" class="f"/>
<rect x="976.00" y="1308.10" width="4.60" height="12.80" class="f"/>
<rect x="976.00" y="1336.00" width="4.60" height="20.90" class="f"/>
<rect x="976.00" y="1372.10" width="4.60" height="20.80" class="f"/>
<rect x="976.00" y="1407.90" width="4.60" height="13.00" class="f"/>
<rect x="1041.10" y="1308.15" width="14.00" height="4.70" class="f"/>
<rect x="1072.20" y="1308.15" width="23.80" height="4.70" class="f"/>
<rect x="1112.80" y="1308.15" width="14.80" height="4.70" class="f"/>
<rect x="1041.10" y="1416.25" width="14.00" height="4.70" class="f"/>
<rect x="1072.20" y="1416.25" width="23.80" height="4.70" class="f"/>
<rect x="1112.80" y="1416.25" width="14.80" height="4.70" class="f"/>
<rect x="1041.20" y="1308.10" width="4.60" height="12.80" class="f"/>
<rect x="1041.20" y="1336.00" width="4.60" height="20.90" class="f"/>
<rect x="1041.20" y="1372.10" width="4.60" height="20.80" class="f"/>
<rect x="1041.20" y="1407.90" width="4.60" height="13.00" class="f"/>
<rect x="1122.90" y="1308.10" width="4.60" height="12.80" class="f"/>
<rect x="1122.90" y="1336.00" width="4.60" height="20.90" class="f"/>
<rect x="1122.90" y="1372.10" width="4.60" height="20.80" class="f"/>
<rect x="1122.90" y="1407.90" width="4.60" height="13.00" class="f"/>
<rect x="1235.40" y="1308.15" width="14.00" height="4.70" class="f"/>
<rect x="1266.50" y="1308.15" width="23.80" height="4.70" class="f"/>
<rect x="1307.40" y="1308.15" width="14.80" height="4.70" class="f"/>
<rect x="1235.40" y="1416.25" width="14.00" height="4.70" class="f"/>
<rect x="1266.50" y="1416.25" width="23.80" height="4.70" class="f"/>
<rect x="1307.40" y="1416.25" width="14.80" height="4.70" class="f"/>
<rect x="1235.50" y="1308.10" width="4.60" height="12.80" class="f"/>
<rect x="1235.50" y="1336.00" width="4.60" height="20.90" class="f"/>
<rect x="1235.50" y="1372.10" width="4.60" height="20.80" class="f"/>
<rect x="1235.50" y="1407.90" width="4.60" height="13.00" class="f"/>
<rect x="1317.50" y="1308.10" width="4.60" height="12.80" class="f"/>
<rect x="1317.50" y="1336.00" width="4.60" height="20.90" class="f"/>
<rect x="1317.50" y="1372.10" width="4.60" height="20.80" class="f"/>
<rect x="1317.50" y="1407.90" width="4.60" height="13.00" class="f"/>
<path d="M1439.30,1310.50 L1501.30,1310.50 L1501.30,1418.60 L1419.60,1418.60 L1419.60,1310.50 L1439.30,1310.50" stroke-width="4.5" stroke-dasharray="20.30 14.21" stroke-linejoin="miter"/>
<rect x="1621.30" y="1308.15" width="14.00" height="4.70" class="f"/>
<rect x="1652.40" y="1308.15" width="23.80" height="4.70" class="f"/>
<rect x="1693.60" y="1308.15" width="14.80" height="4.70" class="f"/>
<rect x="1621.30" y="1416.25" width="14.00" height="4.70" class="f"/>
<rect x="1652.40" y="1416.25" width="23.80" height="4.70" class="f"/>
<rect x="1693.60" y="1416.25" width="14.80" height="4.70" class="f"/>
<rect x="1621.40" y="1308.10" width="4.60" height="12.80" class="f"/>
<rect x="1621.40" y="1336.00" width="4.60" height="20.90" class="f"/>
<rect x="1621.40" y="1372.10" width="4.60" height="20.80" class="f"/>
<rect x="1621.40" y="1407.90" width="4.60" height="13.00" class="f"/>
<rect x="1703.70" y="1308.10" width="4.60" height="12.80" class="f"/>
<rect x="1703.70" y="1336.00" width="4.60" height="20.90" class="f"/>
<rect x="1703.70" y="1372.10" width="4.60" height="20.80" class="f"/>
<rect x="1703.70" y="1407.90" width="4.60" height="13.00" class="f"/>
<rect x="1830.20" y="1308.15" width="14.00" height="4.70" class="f"/>
<rect x="1861.30" y="1308.15" width="23.80" height="4.70" class="f"/>
<rect x="1902.20" y="1308.15" width="14.80" height="4.70" class="f"/>
<rect x="1830.20" y="1416.25" width="14.00" height="4.70" class="f"/>
<rect x="1861.30" y="1416.25" width="23.80" height="4.70" class="f"/>
<rect x="1902.20" y="1416.25" width="14.80" height="4.70" class="f"/>
<rect x="1830.30" y="1308.10" width="4.60" height="12.80" class="f"/>
<rect x="1830.30" y="1336.00" width="4.60" height="20.90" class="f"/>
<rect x="1830.30" y="1372.10" width="4.60" height="20.80" class="f"/>
<rect x="1830.30" y="1407.90" width="4.60" height="13.00" class="f"/>
<rect x="1912.30" y="1308.10" width="4.60" height="12.80" class="f"/>
<rect x="1912.30" y="1336.00" width="4.60" height="20.90" class="f"/>
<rect x="1912.30" y="1372.10" width="4.60" height="20.80" class="f"/>
<rect x="1912.30" y="1407.90" width="4.60" height="13.00" class="f"/>
<rect x="2010.80" y="1308.15" width="14.00" height="4.70" class="f"/>
<rect x="2041.90" y="1308.15" width="23.80" height="4.70" class="f"/>
<rect x="2083.00" y="1308.15" width="14.80" height="4.70" class="f"/>
<rect x="2010.80" y="1416.25" width="14.00" height="4.70" class="f"/>
<rect x="2041.90" y="1416.25" width="23.80" height="4.70" class="f"/>
<rect x="2083.00" y="1416.25" width="14.80" height="4.70" class="f"/>
<rect x="2010.90" y="1308.10" width="4.60" height="12.80" class="f"/>
<rect x="2010.90" y="1336.00" width="4.60" height="20.90" class="f"/>
<rect x="2010.90" y="1372.10" width="4.60" height="20.80" class="f"/>
<rect x="2010.90" y="1407.90" width="4.60" height="13.00" class="f"/>
<rect x="2093.10" y="1308.10" width="4.60" height="12.80" class="f"/>
<rect x="2093.10" y="1336.00" width="4.60" height="20.90" class="f"/>
<rect x="2093.10" y="1372.10" width="4.60" height="20.80" class="f"/>
<rect x="2093.10" y="1407.90" width="4.60" height="13.00" class="f"/>
<text transform="translate(100.31,1290.50) scale(1,1.035)" font-size="31.6" text-anchor="start">M</text>
<text transform="translate(162.40,1290.50) scale(1,1.035)" font-size="31.6" text-anchor="start">C2</text>
<text transform="translate(236.41,1290.50) scale(1,1.035)" font-size="31.6" text-anchor="start">B8</text>
<text transform="translate(309.80,1290.50) scale(1,1.035)" font-size="31.6" text-anchor="start">C2</text>
<text transform="translate(397.41,1290.60) scale(1,1.035)" font-size="31.6" text-anchor="start">D</text>
<text transform="translate(578.04,1263.75) scale(1,1.035)" font-size="31.6" text-anchor="start">A</text>
<text transform="translate(759.74,1290.50) scale(1,1.035)" font-size="31.6" text-anchor="start">A</text>
<text transform="translate(899.74,1263.30) scale(1,1.035)" font-size="31.6" text-anchor="start">A</text>
<text transform="translate(1048.04,1292.50) scale(1,1.035)" font-size="31.6" text-anchor="start">A</text>
<text transform="translate(1240.94,1263.30) scale(1,1.035)" font-size="31.6" text-anchor="start">A</text>
<text transform="translate(1420.94,1263.30) scale(1,1.035)" font-size="31.6" text-anchor="start">A</text>
<text transform="translate(1623.64,1263.30) scale(1,1.035)" font-size="31.6" text-anchor="start">A</text>
<text transform="translate(1835.40,1289.80) scale(1,1.035)" font-size="31.6" text-anchor="start">C</text>
<text transform="translate(2014.81,1289.80) scale(1,1.035)" font-size="31.6" text-anchor="start">D</text>
<text transform="translate(99.31,1451.50) scale(1,1.035)" font-size="31.6" text-anchor="start">HVAC</text>
<text transform="translate(100.30,1485.60) scale(1,1.035)" font-size="31.6" text-anchor="start">Control</text>
<text transform="translate(101.84,1519.70) scale(1,1.035)" font-size="31.6" text-anchor="start">Assembly</text>
<text transform="translate(249.61,1451.50) scale(1,1.035)" font-size="31.6" text-anchor="start">Body</text>
<text transform="translate(250.60,1485.60) scale(1,1.035)" font-size="31.6" text-anchor="start">Control</text>
<text transform="translate(249.61,1519.70) scale(1,1.035)" font-size="31.6" text-anchor="start">Module</text>
<text transform="translate(250.24,1553.80) scale(1,1.035)" font-size="31.6" text-anchor="start">(BCM)</text>
<text transform="translate(391.41,1452.80) scale(1,1.035)" font-size="31.6" text-anchor="start">Lamp</text>
<text transform="translate(393.94,1486.90) scale(1,1.035)" font-size="31.6" text-anchor="start">Assembly –</text>
<text transform="translate(391.41,1521.00) scale(1,1.035)" font-size="31.6" text-anchor="start">LR</text>
<text transform="translate(393.02,1546.60) scale(1,1.04)" font-size="22.2" text-anchor="start">(Pontiac)</text>
<text transform="translate(573.61,1452.80) scale(1,1.035)" font-size="31.6" text-anchor="start">Lamp</text>
<text transform="translate(576.14,1486.90) scale(1,1.035)" font-size="31.6" text-anchor="start">Assembly –</text>
<text transform="translate(573.61,1521.00) scale(1,1.035)" font-size="31.6" text-anchor="start">LR</text>
<text transform="translate(575.02,1546.60) scale(1,1.04)" font-size="22.2" text-anchor="start">(Oldsmobile)</text>
<text transform="translate(752.41,1451.80) scale(1,1.035)" font-size="31.6" text-anchor="start">License</text>
<text transform="translate(752.41,1485.90) scale(1,1.035)" font-size="31.6" text-anchor="start">Lamp</text>
<text transform="translate(894.51,1451.80) scale(1,1.035)" font-size="31.6" text-anchor="start">License</text>
<text transform="translate(894.51,1485.90) scale(1,1.035)" font-size="31.6" text-anchor="start">Lamp</text>
<text transform="translate(1040.41,1451.70) scale(1,1.035)" font-size="31.6" text-anchor="start">Lamp</text>
<text transform="translate(1042.94,1485.80) scale(1,1.035)" font-size="31.6" text-anchor="start">Assembly –</text>
<text transform="translate(1040.41,1519.90) scale(1,1.035)" font-size="31.6" text-anchor="start">RR</text>
<text transform="translate(1233.41,1451.70) scale(1,1.035)" font-size="31.6" text-anchor="start">Lamp</text>
<text transform="translate(1235.94,1485.80) scale(1,1.035)" font-size="31.6" text-anchor="start">Assembly –</text>
<text transform="translate(1233.41,1519.90) scale(1,1.035)" font-size="31.6" text-anchor="start">RR</text>
<text transform="translate(1415.41,1451.50) scale(1,1.035)" font-size="31.6" text-anchor="start">Rear</text>
<text transform="translate(1416.40,1485.60) scale(1,1.035)" font-size="31.6" text-anchor="start">Compartment</text>
<text transform="translate(1415.41,1519.70) scale(1,1.035)" font-size="31.6" text-anchor="start">Lid/Backup</text>
<text transform="translate(1417.29,1553.80) scale(1,1.035)" font-size="31.6" text-anchor="start">Tail Lamp –</text>
<text transform="translate(1415.41,1587.90) scale(1,1.035)" font-size="31.6" text-anchor="start">LR</text>
<text transform="translate(1413.82,1613.60) scale(1,1.04)" font-size="22.2" text-anchor="start">(Oldsmobile)</text>
<text transform="translate(1620.61,1451.50) scale(1,1.035)" font-size="31.6" text-anchor="start">Rear</text>
<text transform="translate(1621.60,1485.60) scale(1,1.035)" font-size="31.6" text-anchor="start">Compartment</text>
<text transform="translate(1620.61,1519.70) scale(1,1.035)" font-size="31.6" text-anchor="start">Lid/Backup</text>
<text transform="translate(1622.49,1553.80) scale(1,1.035)" font-size="31.6" text-anchor="start">Tail Lamp –</text>
<text transform="translate(1620.61,1587.90) scale(1,1.035)" font-size="31.6" text-anchor="start">RR</text>
<text transform="translate(1621.92,1613.60) scale(1,1.04)" font-size="22.2" text-anchor="start">(Oldsmobile)</text>
<text transform="translate(1828.08,1451.70) scale(1,1.035)" font-size="31.6" text-anchor="start">I/P</text>
<text transform="translate(1828.41,1485.80) scale(1,1.035)" font-size="31.6" text-anchor="start">Dimmer</text>
<text transform="translate(1829.57,1519.90) scale(1,1.035)" font-size="31.6" text-anchor="start">Switch</text>
<text transform="translate(2008.88,1451.70) scale(1,1.035)" font-size="31.6" text-anchor="start">I/P</text>
<text transform="translate(2009.21,1485.80) scale(1,1.035)" font-size="31.6" text-anchor="start">Dimming</text>
<text transform="translate(2009.21,1519.90) scale(1,1.035)" font-size="31.6" text-anchor="start">Module</text>
<rect x="0" y="1649.7" width="2.1" height="1.4" class="f"/>
</svg>
</body></html>
